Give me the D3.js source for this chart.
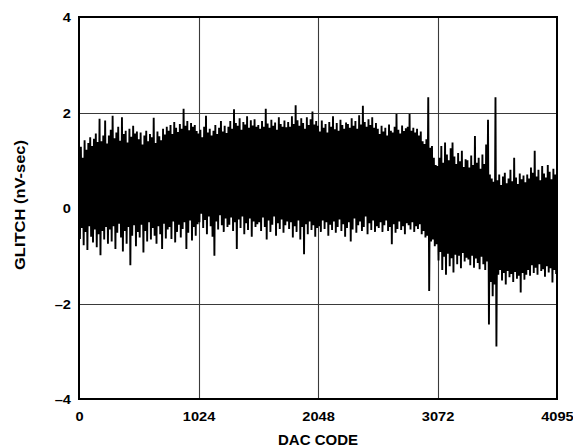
<!DOCTYPE html>
<html>
<head>
<meta charset="utf-8">
<script src="https://cdn.jsdelivr.net/npm/d3@7"></script>
<style>
  html, body { margin: 0; padding: 0; background: #fff; }
  svg { display: block; }
  text { font-family: "Liberation Sans", Arial, Helvetica, sans-serif; font-weight: bold; fill: #000; }
</style>
</head>
<body>
<svg id="chart" width="573" height="447"></svg>
<script>
// Glitch impulse measured at every 8th DAC code (codes 0, 8, 16, ... 4088), nV-sec.
// One row per 256-code block.
const glitch = [
  1.16,-0.65,1.28,-0.42,1.05,-0.78,1.42,-0.50,1.22,-0.88,1.36,-0.38,1.48,-0.60,1.30,-0.72,1.45,-0.45,1.56,-0.82,1.38,-0.55,1.87,-0.99,1.40,-0.48,1.52,-0.66,1.83,-0.40,1.35,-0.75,
  1.52,-0.45,1.64,-0.70,1.93,-0.38,1.46,-0.86,1.58,-0.52,1.70,-0.33,1.41,-0.62,1.90,-0.91,1.55,-0.48,1.62,-0.75,1.37,-0.40,1.66,-1.20,1.49,-0.58,1.72,-0.36,1.56,-0.80,1.60,-0.50,
  1.44,-0.62,1.58,-0.35,1.33,-0.93,1.52,-0.48,1.62,-0.70,1.40,-0.30,1.55,-0.66,1.48,-0.42,1.89,-0.58,1.36,-0.75,1.60,-0.38,1.50,-0.55,1.42,-0.86,1.66,-0.33,1.54,-0.64,1.70,-0.45,
  1.62,-0.40,1.74,-0.65,1.55,-0.28,1.80,-0.72,1.68,-0.50,1.59,-0.35,1.76,-0.62,1.66,-0.44,2.08,-0.30,1.72,-0.86,1.82,-0.52,1.63,-0.26,1.78,-0.68,1.70,-0.40,1.74,-0.58,1.61,-0.34,
  1.56,-0.30,1.64,-0.12,1.48,-0.42,1.70,-0.25,1.93,-0.55,1.58,-0.18,1.66,-0.38,1.52,-0.60,1.62,-1.00,1.74,-0.28,1.55,-0.45,1.68,-0.15,1.82,-0.36,1.60,-0.50,1.72,-0.22,1.57,-0.40,
  1.70,-0.35,1.82,-0.20,1.66,-0.48,2.07,-0.30,1.78,-0.86,1.72,-0.24,1.88,-0.42,1.64,-0.18,1.80,-0.55,1.75,-0.32,1.92,-0.46,1.68,-0.22,1.84,-0.60,1.73,-0.28,1.86,-0.40,1.70,-0.34,
  1.74,-0.30,1.66,-0.48,1.82,-0.20,1.70,-0.40,2.08,-0.66,1.77,-0.26,1.68,-0.50,1.85,-0.35,1.72,-0.18,1.79,-0.58,1.64,-0.32,1.90,-0.44,1.76,-0.24,1.70,-0.52,1.83,-0.36,1.69,-0.28,
  1.80,-0.44,1.70,-0.30,1.92,-0.62,1.76,-0.38,2.15,-0.50,1.84,-0.26,1.72,-0.66,1.88,-0.40,1.78,-0.97,1.66,-0.34,1.90,-0.55,1.74,-0.28,1.86,-0.46,2.02,-0.36,1.75,-0.60,1.82,-0.42,
  1.72,-0.38,1.60,-0.50,1.83,-0.26,1.68,-0.44,1.76,-0.30,1.58,-0.58,1.80,-0.35,1.70,-0.46,1.92,-0.28,1.65,-0.52,1.78,-0.40,1.62,-0.24,1.85,-0.48,1.74,-0.34,1.66,-0.60,1.79,-0.42,
  1.76,-0.30,1.68,-0.70,1.88,-0.45,1.72,-0.22,1.82,-0.52,1.66,-0.36,1.94,-0.28,1.75,-0.48,2.14,-0.40,1.80,-0.18,1.70,-0.55,1.86,-0.32,1.74,-0.46,1.90,-0.26,1.68,-0.50,1.78,-0.38,
  1.66,-0.42,1.55,-0.30,1.72,-0.50,1.60,-0.36,1.68,-0.26,1.52,-0.48,1.75,-0.40,1.62,-0.76,1.58,-0.34,1.70,-0.52,1.97,-0.44,1.64,-0.28,1.56,-0.46,1.73,-0.38,1.61,-0.55,1.67,-0.32,
  1.70,-0.36,1.97,-0.45,1.62,-0.30,1.68,-0.50,1.58,-0.38,1.66,-0.44,1.52,-0.34,1.60,-0.55,1.40,-0.48,1.34,-0.62,1.44,-0.58,2.32,-1.74,1.26,-0.70,1.30,-0.66,1.05,-0.80,0.90,-0.76,
  0.88,-1.10,1.05,-0.92,1.30,-1.30,0.95,-1.02,1.37,-1.40,1.12,-0.96,1.00,-1.22,1.25,-1.05,1.37,-1.35,1.08,-0.98,0.92,-1.18,1.15,-1.00,0.98,-1.26,1.20,-0.94,0.86,-1.12,1.02,-1.04,
  1.00,-1.08,0.85,-1.20,1.10,-1.00,0.90,-1.25,1.51,-1.06,0.95,-1.15,1.05,-1.28,0.82,-1.02,1.12,-1.18,0.92,-1.30,1.33,-1.12,1.85,-2.44,0.70,-1.55,0.62,-1.85,0.55,-1.60,2.32,-2.90,
  0.58,-1.40,0.70,-1.30,0.48,-1.52,0.66,-1.36,0.74,-1.60,0.52,-1.32,0.62,-1.45,0.80,-1.38,0.56,-1.55,1.05,-1.34,0.64,-1.48,0.50,-1.42,0.72,-1.77,0.60,-1.36,0.68,-1.50,0.54,-1.40,
  0.70,-1.30,0.62,-1.42,0.85,-1.20,0.74,-1.36,1.20,-1.25,0.66,-1.40,0.80,-1.18,0.58,-1.32,0.88,-1.28,0.72,-1.44,0.64,-1.22,0.90,-1.35,0.76,-1.26,0.60,-1.56,0.82,-1.30,0.70,-1.38
];
const codeStep = 8;

const xTicks = [0, 1024, 2048, 3072, 4095];
const yTicks = [-4, -2, 0, 2, 4];
const xGrid = [1024, 2048, 3072];
const yGrid = [-2, 0, 2];
const xTitle = "DAC CODE";
const yTitle = "GLITCH (nV-sec)";

const svg = d3.select("#chart");
const plot = { left: 79, right: 557, top: 17, bottom: 399 };

const x = d3.scaleLinear().domain([0, 4095]).range([plot.left, plot.right]);
const y = d3.scaleLinear().domain([-4, 4]).range([plot.bottom, plot.top]);

svg.append("rect").attr("width", 573).attr("height", 447).attr("fill", "#fff");

svg.append("defs").append("clipPath").attr("id", "plotClip")
  .append("rect")
  .attr("x", plot.left).attr("y", plot.top)
  .attr("width", plot.right - plot.left).attr("height", plot.bottom - plot.top);

// grid
svg.append("g").selectAll("line").data(xGrid).join("line")
  .attr("x1", d => Math.round(x(d)) + 0.5).attr("x2", d => Math.round(x(d)) + 0.5)
  .attr("y1", plot.top).attr("y2", plot.bottom)
  .attr("stroke", "#3a3a3a").attr("stroke-width", 1.1);
svg.append("g").selectAll("line").data(yGrid).join("line")
  .attr("y1", d => Math.round(y(d)) + 0.5).attr("y2", d => Math.round(y(d)) + 0.5)
  .attr("x1", plot.left).attr("x2", plot.right)
  .attr("stroke", "#3a3a3a").attr("stroke-width", 1.1);

// glitch trace
const samples = glitch.map((v, i) => ({ code: i * codeStep, v }));
const line = d3.line().x(d => x(d.code)).y(d => y(d.v));
svg.append("path")
  .datum(samples)
  .attr("clip-path", "url(#plotClip)")
  .attr("d", line)
  .attr("fill", "none")
  .attr("stroke", "#000")
  .attr("stroke-width", 1.9)
  .attr("stroke-linejoin", "bevel");

// frame
svg.append("rect")
  .attr("x", plot.left).attr("y", plot.top)
  .attr("width", plot.right - plot.left).attr("height", plot.bottom - plot.top)
  .attr("fill", "none").attr("stroke", "#000").attr("stroke-width", 2);

// axes built with d3-axis, then restyled: labels only
const fmt = d => (d < 0 ? "\u2013" + Math.abs(d) : String(d));
const xAxis = d3.axisBottom(x).tickValues(xTicks).tickFormat(fmt).tickSize(0).tickPadding(0);
const yAxis = d3.axisLeft(y).tickValues(yTicks).tickFormat(fmt).tickSize(0).tickPadding(0);

const gx = svg.append("g").attr("transform", `translate(0,${plot.bottom})`).call(xAxis);
const gy = svg.append("g").attr("transform", `translate(${plot.left},0)`).call(yAxis);
[gx, gy].forEach(g => { g.select(".domain").remove(); g.attr("font-family", null).attr("font-size", null); });

gx.selectAll(".tick text")
  .attr("y", 0).attr("dy", 0)
  .attr("font-size", 12.5)
  .attr("transform", "translate(0,22) scale(1.17,1)")
  .attr("text-anchor", "middle");

gy.selectAll(".tick text")
  .attr("x", 0).attr("dy", "0.36em")
  .attr("font-size", 12.5)
  .attr("transform", "translate(-8,0) scale(1.17,1)")
  .attr("text-anchor", "end");

svg.append("text")
  .attr("x", (plot.left + plot.right) / 2).attr("y", 445)
  .attr("text-anchor", "middle")
  .attr("font-size", 15)
  .text(xTitle);

svg.append("text")
  .attr("transform", `translate(25,${(plot.top + plot.bottom) / 2 - 3}) rotate(-90)`)
  .attr("text-anchor", "middle")
  .attr("font-size", 14)
  .attr("textLength", 130)
  .attr("lengthAdjust", "spacingAndGlyphs")
  .text(yTitle);
</script>
</body>
</html>
